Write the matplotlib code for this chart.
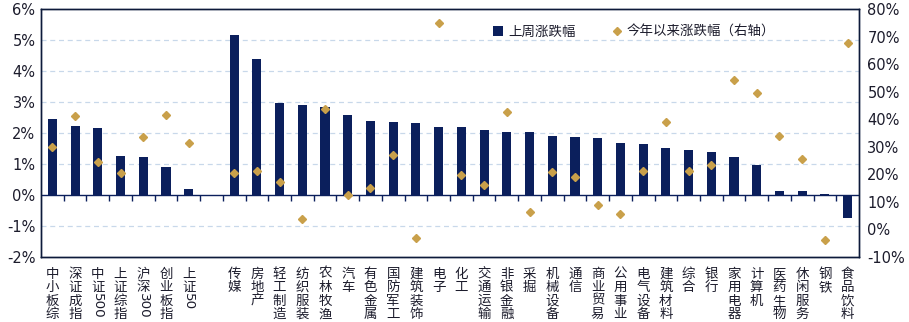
import matplotlib
matplotlib.use("Agg")
import matplotlib.pyplot as plt
import numpy as np
import re

plt.rcParams['font.family'] = ['Noto Sans CJK SC', 'DejaVu Sans']

categories = ["中小板综", "深证成指", "中证500", "上证综指", "沪深300", "创业板指", "上证50", "",
              "传媒", "房地产", "轻工制造", "纺织服装", "农林牧渔", "汽车", "有色金属", "国防军工",
              "建筑装饰", "电子", "化工", "交通运输", "非银金融", "采掘", "机械设备", "通信",
              "商业贸易", "公用事业", "电气设备", "建筑材料", "综合", "银行", "家用电器", "计算机",
              "医药生物", "休闲服务", "钢铁", "食品饮料"]
weekly = [2.46, 2.23, 2.17, 1.27, 1.24, 0.91, 0.20, np.nan,
          5.17, 4.40, 2.98, 2.92, 2.85, 2.59, 2.40, 2.36,
          2.33, 2.20, 2.20, 2.10, 2.04, 2.04, 1.91, 1.88,
          1.85, 1.69, 1.65, 1.53, 1.46, 1.40, 1.24, 0.98,
          0.14, 0.14, 0.04, -0.73]
ytd = [29.9, 41.2, 24.5, 20.5, 33.5, 41.5, 31.4, np.nan,
       20.5, 21.2, 17.2, 3.8, 43.7, 12.5, 15.0, 27.0,
       -3.1, 74.9, 19.7, 16.1, 42.6, 6.3, 20.8, 19.0,
       8.9, 5.6, 21.2, 39.0, 21.2, 23.4, 54.2, 49.5,
       33.9, 25.5, -3.9, 67.7]
left_ticks = [-2, -1, 0, 1, 2, 3, 4, 5, 6]
right_ticks = [-10, 0, 10, 20, 30, 40, 50, 60, 70, 80]

navy = '#0b1f5c'
gold = '#c9a04a'
txt = '#1c1c2c'

fig = plt.figure(figsize=(9.09, 3.22), dpi=100)
ax = fig.add_axes([41/909, 1-257/322, (859-41)/909, (257-9.3)/322])
x = np.arange(len(categories))

bars = ax.bar(x, weekly, width=0.4, color=navy, zorder=3, label='上周涨跌幅')
ax.set_xlim(-0.5, len(categories)-0.5)
ax.set_ylim(left_ticks[0], left_ticks[-1])
ax.set_yticks(left_ticks)
ax.set_yticklabels([f'{t}%' for t in left_ticks], family='DejaVu Sans', fontsize=10.5, color=txt)
for t in left_ticks:
    if t not in (0, left_ticks[0], left_ticks[-1]):
        ax.axhline(t, color='#c8d8ea', lw=0.9, ls=(0, (4, 3)), zorder=1)
ax.axhline(0, color=navy, lw=1.0, zorder=4)
bounds = np.arange(len(categories)+1)[1:-1] - 0.5
ax.vlines(bounds, 0, -0.19, color=navy, lw=1.0, zorder=4)

# split labels into stacked CJK part and rotated digit part
cjk_parts, digit_parts = [], []
for c in categories:
    m = re.match(r'^(\D*)(\d*)$', c)
    cjk_parts.append(m.group(1))
    digit_parts.append(m.group(2))

ax.set_xticks(x)
ax.set_xticklabels(['\n'.join(list(c)) for c in cjk_parts], fontsize=9.7, color=txt,
                   va='top', linespacing=0.95)
ax.tick_params(axis='x', length=0, pad=7)
ax.tick_params(axis='y', length=0, pad=4)
for s in ax.spines.values():
    s.set_color('#0d1a3a')
    s.set_linewidth(1.0)

ax2 = ax.twinx()
ax2.set_ylim(right_ticks[0], right_ticks[-1])
ax2.set_yticks(right_ticks)
ax2.set_yticklabels([f'{t}%' for t in right_ticks], family='DejaVu Sans', fontsize=10.5, color=txt)
ax2.tick_params(axis='y', length=0, pad=6)
sc = ax2.plot(x, ytd, ls='none', marker='D', markersize=4.2, color=gold, zorder=5,
              label='今年以来涨跌幅（右轴）')[0]
for s in ax2.spines.values():
    s.set_color('#0d1a3a')
    s.set_linewidth(1.0)

leg = ax2.legend([bars, sc], ['上周涨跌幅', '今年以来涨跌幅（右轴）'], ncol=2, frameon=False,
                 loc='upper left', bbox_to_anchor=(0.538, 0.985), fontsize=9.7,
                 handlelength=0.8, handletextpad=0.3, columnspacing=2.7, labelcolor=txt)
for h in leg.legend_handles[:1]:
    h.set_width(7)
    h.set_height(7)

# rotated digits below the stacked characters
fig.canvas.draw()
renderer = fig.canvas.get_renderer()
ticklabels = ax.get_xticklabels()
for i, (tl, d) in enumerate(zip(ticklabels, digit_parts)):
    if not d:
        continue
    bb = tl.get_window_extent(renderer)
    xc = (bb.x0 + bb.x1) / 2
    fig.text(xc / fig.bbox.width, (bb.y0 + 1) / fig.bbox.height, d, rotation=-90,
             ha='center', va='top', fontsize=9.7, color=txt, family='DejaVu Sans',
             rotation_mode='default')

fig.savefig('out.png', dpi=100)
